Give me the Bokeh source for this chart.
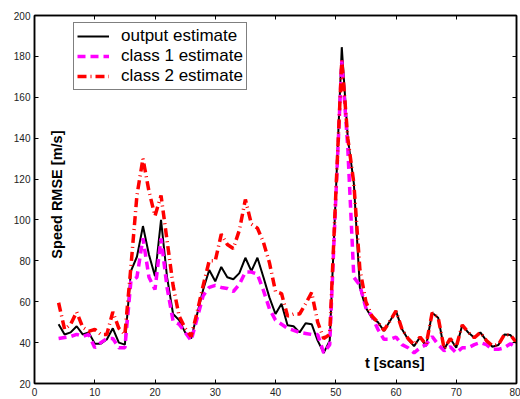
import math
from bokeh.plotting import figure
from bokeh.models import Range1d, LinearAxis, Label, Legend, LegendItem, FixedTicker
from bokeh.embed import file_html
from bokeh.resources import INLINE

# ---------------- data ----------------
t = list(range(4, 81))

output_est = [49, 44, 45, 48, 44, 45, 39.5, 39.5, 41.5, 47, 40, 39,
              75, 82, 97, 83, 72.5, 100, 72, 54, 51, 45, 42, 54, 66, 75.5,
              70, 77, 72, 71, 74, 81.5, 75, 81.5, 72, 62, 54, 59, 48.5, 48,
              45, 49.5, 49, 41, 35, 41, 112, 184.5, 140, 118, 67, 57, 52, 50,
              45.7, 50.6, 55.5, 46.5, 41.6, 38.3, 42.7, 38.3, 54.6, 52.2, 36.7,
              42, 37.5, 48.6, 44.9, 42.4, 45, 41, 38, 38.8, 44, 43.7, 40]

class1_est = [42, 42.5, 43, 44, 43, 44, 37.5, 40, 42, 42, 37.5, 37.5,
              70, 72, 91, 72, 66, 91, 67, 50.5, 49, 45, 41, 52, 63, 67,
              68, 67, 66.5, 65, 68.5, 74.5, 74.5, 73.5, 65.5, 56.5, 51, 49, 47, 46,
              45, 44.5, 44, 44, 35, 39, 110, 178, 135, 72, 68, 57, 53, 46.5,
              41.6, 41.6, 42.7, 39, 37.5, 35, 37.5, 39, 43, 39, 36,
              38, 35, 37.5, 37.5, 39, 40, 39, 36.7, 36.7, 37.5, 39.5, 37.5]

class2_est = [59.5, 46.5, 49, 55, 47.5, 45.5, 46.5, 44, 44, 55, 47, 44,
              77, 112, 130, 114, 102, 112, 90, 68, 53, 47, 43, 55, 68, 80,
              80, 93, 88, 86, 95, 110, 98, 96, 89, 79, 65, 64, 53, 54,
              54, 59, 64.5, 50, 42, 44, 112, 178, 140, 118, 76, 60, 53, 50,
              46, 50.6, 55.5, 46.5, 42, 39, 42.7, 39, 54.6, 52.2, 37,
              42, 38, 48.6, 45, 42.4, 45, 41, 38.5, 39, 44, 43.7, 40]

x_ticks = [0, 10, 20, 30, 40, 50, 60, 70, 80]
y_ticks = [20, 40, 60, 80, 100, 120, 140, 160, 180, 200]

series_labels = ["output estimate", "class 1 estimate", "class 2 estimate"]
x_label = "t [scans]"
y_label = "Speed RMSE [m/s]"

# ---------------- figure ----------------
p = figure(width=520, height=399, output_backend="svg", toolbar_location=None,
           x_range=Range1d(0, 80), y_range=Range1d(20, 200),
           min_border_left=34, min_border_right=4, min_border_top=15,
           min_border_bottom=16)
p.grid.visible = False
p.outline_line_color = "black"
p.outline_line_width = 1.5
p.background_fill_color = "white"
p.border_fill_color = "white"

FONT = "Liberation Sans"


def style(ax, ticks, labels=True):
    ax.ticker = FixedTicker(ticks=ticks)
    ax.major_tick_in = 4
    ax.major_tick_out = 0
    ax.minor_tick_line_color = None
    ax.axis_line_color = "black"
    ax.axis_line_width = 1.5
    ax.major_tick_line_color = "black"
    ax.major_tick_line_width = 1
    ax.major_label_text_font = FONT
    if labels:
        ax.major_label_text_color = "#222222"
        ax.major_label_text_font_size = "10px"
        ax.major_label_standoff = 4
    else:
        ax.major_label_text_color = None
        ax.major_label_text_font_size = "1px"
        ax.major_label_standoff = 0


style(p.xaxis[0], x_ticks)
style(p.yaxis[0], y_ticks)
top_ax = LinearAxis()
right_ax = LinearAxis()
style(top_ax, x_ticks, labels=False)
style(right_ax, y_ticks, labels=False)
p.add_layout(top_ax, "above")
p.add_layout(right_ax, "right")

r0 = p.line(t, output_est, line_color="black", line_width=2)
r1 = p.line(t, class1_est, line_color="#ff00ff", line_width=3.5, line_dash="8 5")
r2 = p.line(t, class2_est, line_color="#ff0000", line_width=3.5, line_dash="9 4 1 4")

legend = Legend(items=[LegendItem(label=series_labels[0], renderers=[r0]),
                       LegendItem(label=series_labels[1], renderers=[r1]),
                       LegendItem(label=series_labels[2], renderers=[r2])],
                location=(39, 293))
legend.border_line_color = "black"
legend.border_line_width = 1.5
legend.background_fill_alpha = 1
legend.label_text_font = FONT
legend.label_text_font_size = "17px"
legend.label_text_color = "black"
legend.padding = 3
legend.spacing = 0
legend.label_height = 18
legend.glyph_height = 18
legend.glyph_width = 32
legend.label_standoff = 12
legend.margin = 0
p.add_layout(legend)

p.add_layout(Label(x=3.8, y=112.4, text=y_label, angle=math.pi / 2,
                   text_align="center", text_baseline="middle",
                   text_font=FONT, text_font_style="bold",
                   text_font_size="14.5px", text_color="black"))
p.add_layout(Label(x=59.8, y=30.2, text=x_label,
                   text_align="center", text_baseline="middle",
                   text_font=FONT, text_font_style="bold",
                   text_font_size="14.5px", text_color="black"))

open("out.html", "w").write(file_html(p, INLINE))
